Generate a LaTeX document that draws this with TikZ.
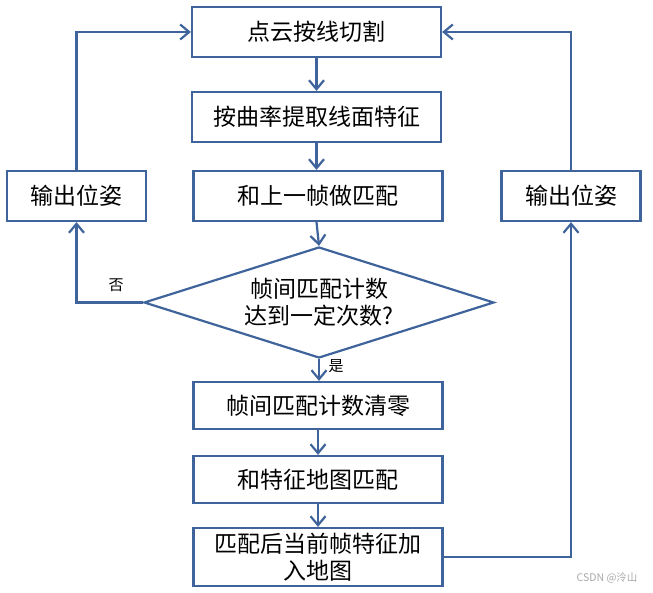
\documentclass[tikz,border=0pt]{standalone}
\usepackage{fontspec}
\setmainfont{Noto Sans CJK SC}
\usetikzlibrary{arrows.meta,shapes.geometric}
\definecolor{flow}{HTML}{3F639B}
\definecolor{wm}{HTML}{A8A8A8}
\begin{document}
\begin{tikzpicture}[x=1pt,y=-1pt,
  box/.style={draw=flow, line width=2.2pt, minimum width=249pt, minimum height=50pt,
    inner sep=0pt, font=\fontsize{23}{27}\selectfont, align=center},
  sidebox/.style={box, minimum width=139pt},
  decision/.style={draw=flow, line width=2.2pt, diamond, shape aspect=3.15,
    minimum width=350pt, minimum height=111pt, inner sep=0pt,
    font=\fontsize{23}{27}\selectfont, align=center},
  arr/.style={draw=flow, line width=2.2pt, -{Straight Barb[length=9pt,width=15pt]}},
  lbl/.style={font=\fontsize{15}{18}\selectfont},
]
\useasboundingbox (0,0) rectangle (653,593);
\node[box] (b1) at (316.5,32) {点云按线切割};
\node[box] (b2) at (316.5,117) {按曲率提取线面特征};
\node[box] (b3) at (318,196) {和上一帧做匹配};
\node[sidebox] (outL) at (76.5,196) {输出位姿};
\node[sidebox] (outR) at (571,196) {输出位姿};
\node[decision] (dec) at (319,302.5) {帧间匹配计数\\达到一定次数?};
\node[box, minimum height=47pt] (b4) at (318,405.5) {帧间匹配计数清零};
\node[box, minimum height=47pt] (b5) at (318,479.5) {和特征地图匹配};
\node[box, minimum height=58pt] (b6) at (318,557) {匹配后当前帧特征加\\入地图};
\draw[arr] (b1.south -| b2.north) -- (b2.north);
\draw[arr] (b2.south) -- (b2.south |- b3.north);
\draw[arr] (b2.south |- b3.south) -- (dec.north);
\draw[arr] (dec.south) -- (dec.south |- b4.north);
\draw[arr] (b4.south) -- (b5.north);
\draw[arr] (b5.south) -- (b6.north);
\draw[arr] (dec.west) -| (outL.south);
\draw[arr] (outL.north) |- (b1.west);
\draw[arr] (b6.east) -| (outR.south);
\draw[arr] (outR.north) |- (b1.east);
\node[lbl] (no) at (116,285) {否};
\node[lbl] (yes) at (336,366) {是};
\node[text=wm, font=\fontsize{10.5}{12}\selectfont, anchor=east] (mark) at (641,578) {CSDN @泠山};
\end{tikzpicture}
\end{document}
